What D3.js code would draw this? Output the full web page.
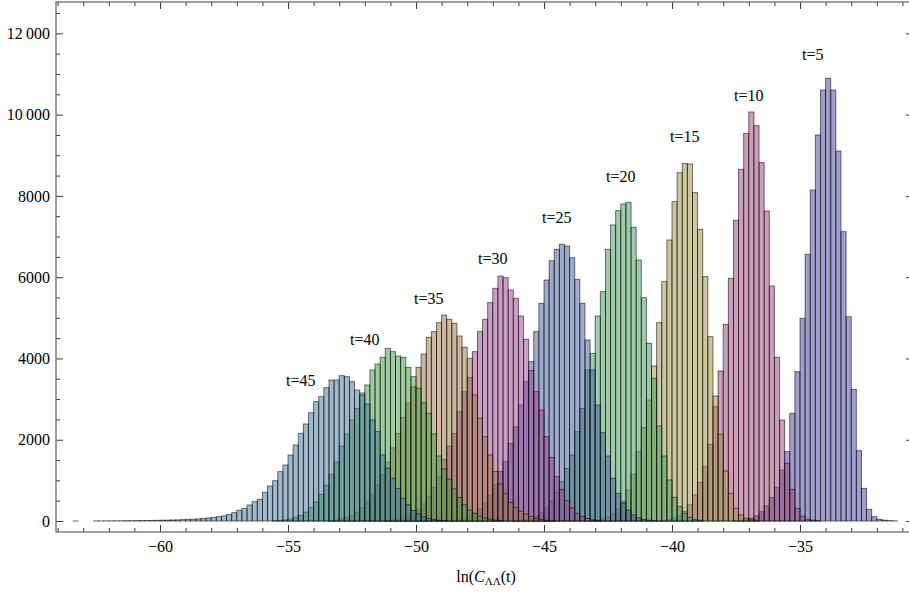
<!DOCTYPE html>
<html>
<head>
<meta charset="utf-8">
<script src="https://cdn.jsdelivr.net/npm/d3@7"></script>
<style>
  html, body { margin: 0; padding: 0; background: #fff; overflow: hidden; }
  svg { display: block; }
  text { font-family: "Liberation Serif", "Times New Roman", "DejaVu Serif", serif; fill: #000; }
</style>
</head>
<body>
<svg id="chart" width="909" height="592"></svg>
<script>
// ---------------- data ----------------
const binWidth = 0.2;
const seriesNames = ["t=5", "t=10", "t=15", "t=20", "t=25", "t=30", "t=35", "t=40", "t=45"];
// left edge of the first bin of each series
const binStarts = [-37.6, -40.6, -43.2, -46.2, -48.8, -51.2, -53.4, -55.6, -63.8];

const counts_t5  = [10,20,40,70,130,230,370,580,830,1255,1706,2650,3675,4987,6563,8145,9498,10605,10893,10605,9104,7119,5028,3240,1731,804,287,107,40,20,10,5];
const counts_t10 = [10,20,40,80,140,240,400,640,950,1337,1887,2813,3691,4840,5972,7399,8654,9540,10064,9727,8817,7628,5782,4028,2485,1419,780,312,120,45,20,10];
const counts_t15 = [12,25,50,95,170,290,480,760,1150,1706,2300,2977,3814,4880,5890,6914,7858,8571,8800,8784,8080,7177,6013,4536,3076,2133,1230,681,312,150,70,30,15];
const counts_t20 = [10,20,40,70,120,200,320,480,700,970,1296,1624,2198,2772,3716,4126,5044,5643,6685,7283,7635,7800,7841,7226,6422,5495,4372,3511,2338,1599,1009,583,353,189,90,40,20];
const counts_t25 = [10,20,40,70,120,190,300,440,640,900,1218,1460,1912,2320,2854,3428,3920,4659,5356,5930,6405,6685,6808,6766,6479,5946,5356,4454,3716,2854,2173,1599,1050,681,435,270,150,80,40,20,10];
const counts_t30 = [12,25,45,75,120,190,290,420,600,830,1090,1518,1845,2150,2690,3182,3527,4167,4659,4963,5373,5726,6029,5988,5684,5479,5044,4471,3700,3182,2731,2074,1568,1090,770,500,320,190,110,60,30,15];
const counts_t35 = [12,25,50,85,140,220,330,470,650,880,1150,1450,1800,2150,2550,2900,3300,3781,4109,4520,4659,4880,5069,4963,4864,4552,4274,4003,3100,2527,2074,1624,1214,910,681,451,330,240,170,110,65,35,18,8];
const counts_t40 = [8,15,28,50,85,140,220,330,470,650,880,1150,1450,1845,2141,2485,2772,3150,3346,3716,3863,4028,4249,4167,4060,4028,3781,3551,3265,2911,2650,2141,1600,1280,1030,790,580,400,270,190,120,75,45,25,12];
const counts_t45 = [0,0,1,0,0,0,2,2,3,4,5,6,8,9,10,12,13,15,17,19,21,24,27,35,41,45,52,62,74,90,107,125,160,205,265,312,394,475,534,706,861,992,1214,1378,1624,1870,2158,2387,2665,2936,3059,3281,3469,3469,3576,3551,3428,3223,3100,2879,2485,2198,1624,1296,1050,804,558,400,260,170,100,60,35,20,10];

const allCounts = [counts_t5, counts_t10, counts_t15, counts_t20, counts_t25, counts_t30, counts_t35, counts_t40, counts_t45];

// label anchors (data units)
const labelAtX = [-34.5, -37.0, -39.5, -42.0, -44.5, -47.0, -49.5, -52.0, -54.5];
const labelAtY = [11470, 10470, 9470, 8470, 7470, 6470, 5470, 4470, 3470];

const xMajorTicks = [-60, -55, -50, -45, -40, -35];
const yMajorTicks = [0, 2000, 4000, 6000, 8000, 10000, 12000];

// Mathematica default series hues (Hue[h, 0.6, 0.6])
const seriesColors = ["rgb(63,61,153)", "rgb(153,61,113)", "rgb(153,141,61)", "rgb(61,153,88)",
                      "rgb(61,88,153)", "rgb(153,61,141)", "rgb(153,113,61)", "rgb(63,153,61)", "rgb(61,116,153)"];

// ---------------- layout ----------------
const svg = d3.select("#chart");
const frame = { left: 56, right: 913, top: 2, bottom: 532 };

const x = d3.scaleLinear().domain([-64.0625, -30.586]).range([frame.left, frame.right]);
const y = d3.scaleLinear().domain([-270.7, 12771]).range([frame.bottom, frame.top]);

// ---------------- bars ----------------
const gBars = svg.append("g");
allCounts.forEach((counts, si) => {
  const bins = counts.map((c, j) => ({ x0: binStarts[si] + j * binWidth, x1: binStarts[si] + (j + 1) * binWidth, c }))
                     .filter(d => d.c > 0);
  gBars.append("g")
    .selectAll("rect")
    .data(bins)
    .join("rect")
    .attr("x", d => x(d.x0))
    .attr("width", d => x(d.x1) - x(d.x0))
    .attr("y", d => y(d.c))
    .attr("height", d => y(0) - y(d.c))
    .attr("fill", seriesColors[si])
    .attr("fill-opacity", 0.5)
    .attr("stroke", "#000")
    .attr("stroke-opacity", 0.6)
    .attr("stroke-width", 0.9);
});

// ---------------- labels ----------------
svg.append("g").selectAll("text")
  .data(seriesNames)
  .join("text")
  .attr("x", (d, i) => x(labelAtX[i]))
  .attr("y", (d, i) => y(labelAtY[i]))
  .attr("dy", "0.35em")
  .attr("text-anchor", "middle")
  .attr("font-size", 16)
  .text(d => d);

// ---------------- frame & axes ----------------
const frameColor = "#6e6e6e";
const xMinor = d3.range(-64, -30, 1).filter(v => !xMajorTicks.includes(v));
const yMinor = d3.range(0, 12770, 500).filter(v => !yMajorTicks.includes(v));
const fmt = v => {
  const s = String(Math.abs(v));
  const g = s.length > 4 ? s.slice(0, s.length - 3) + "\u2009" + s.slice(-3) : s;
  return (v < 0 ? "\u2212" : "") + g;
};

function styleAxis(g) {
  g.attr("font-family", null);
  g.select(".domain").remove();
  g.selectAll(".tick line").attr("stroke", "#333").attr("stroke-width", 1);
  g.selectAll(".tick text").attr("font-size", 16).attr("font-family", "Liberation Serif, Times New Roman, serif").attr("fill", "#000");
}

// bottom
svg.append("g").attr("transform", `translate(0,${frame.bottom})`)
  .call(d3.axisBottom(x).tickValues(xMajorTicks).tickSize(-7).tickPadding(9).tickFormat(fmt))
  .call(styleAxis);
svg.append("g").attr("transform", `translate(0,${frame.bottom})`)
  .call(d3.axisBottom(x).tickValues(xMinor).tickSize(-4).tickFormat(""))
  .call(styleAxis);
// top
svg.append("g").attr("transform", `translate(0,${frame.top})`)
  .call(d3.axisTop(x).tickValues(xMajorTicks).tickSize(-7).tickFormat(""))
  .call(styleAxis);
svg.append("g").attr("transform", `translate(0,${frame.top})`)
  .call(d3.axisTop(x).tickValues(xMinor).tickSize(-4).tickFormat(""))
  .call(styleAxis);
// left
svg.append("g").attr("transform", `translate(${frame.left},0)`)
  .call(d3.axisLeft(y).tickValues(yMajorTicks).tickSize(-7).tickPadding(6).tickFormat(fmt))
  .call(styleAxis);
svg.append("g").attr("transform", `translate(${frame.left},0)`)
  .call(d3.axisLeft(y).tickValues(yMinor).tickSize(-4).tickFormat(""))
  .call(styleAxis);
// right
svg.append("g").attr("transform", `translate(${frame.right},0)`)
  .call(d3.axisRight(y).tickValues(yMajorTicks).tickSize(-7).tickFormat(""))
  .call(styleAxis);
svg.append("g").attr("transform", `translate(${frame.right},0)`)
  .call(d3.axisRight(y).tickValues(yMinor).tickSize(-4).tickFormat(""))
  .call(styleAxis);

// frame lines
svg.append("rect")
  .attr("x", frame.left).attr("y", frame.top)
  .attr("width", frame.right - frame.left).attr("height", frame.bottom - frame.top)
  .attr("fill", "none").attr("stroke", frameColor).attr("stroke-width", 1.3);

// x axis title: ln(C_ΛΛ(t)
const title = svg.append("text")
  .attr("x", 486).attr("y", 582)
  .attr("text-anchor", "middle")
  .attr("font-size", 16);
title.append("tspan").text("ln(");
title.append("tspan").attr("font-style", "italic").text("C");
title.append("tspan").attr("font-size", 11).attr("dy", 3).text("ΛΛ");
title.append("tspan").attr("dy", -3).text("(t)");
</script>
</body>
</html>
